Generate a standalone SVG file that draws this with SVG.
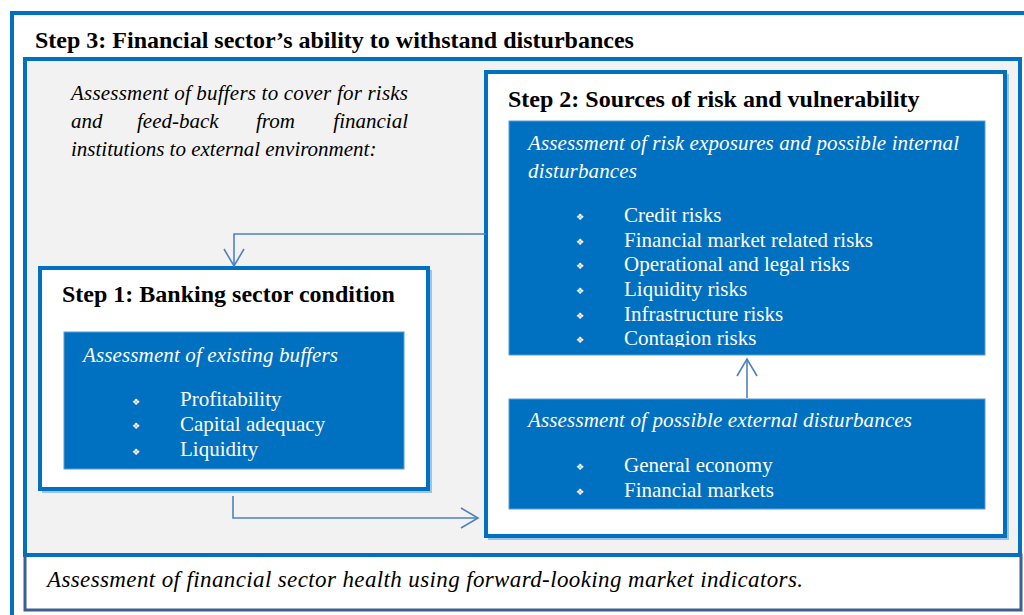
<svg xmlns="http://www.w3.org/2000/svg" width="1024" height="615" viewBox="0 0 1024 615">
<defs>
<style>
.frame{fill:none;stroke:#0070c0;stroke-width:4}
.box{fill:#ffffff;stroke:#0070c0;stroke-width:4}
.shadow{fill:none;stroke:#9dc3e6;stroke-width:2}
.blue{fill:#0070c0;stroke:#5b9bd5;stroke-width:1}
.title{font-family:"Liberation Serif","Times New Roman",serif;font-weight:bold;font-size:24px;fill:#000}
.ital{font-family:"Liberation Serif","Times New Roman",serif;font-style:italic;font-size:21px;fill:#000}
.wital{font-family:"Liberation Serif","Times New Roman",serif;font-style:italic;font-size:21px;fill:#fff}
.item{font-family:"Liberation Serif","Times New Roman",serif;font-size:21px;fill:#fff}
.bul{font-family:"DejaVu Sans",sans-serif;font-size:9px;fill:#fff;text-anchor:middle}
.conn{fill:none;stroke:#4f81bd;stroke-width:1.6}
</style>
<clipPath id="clipA"><rect x="509" y="121" width="476" height="226"/></clipPath>
</defs>

<g id="step3">
<rect class="frame" x="12" y="13" width="1030" height="620"/>
<text class="title" x="35" y="48">Step 3: Financial sector’s ability to withstand disturbances</text>
</g>

<g id="gray-area">
<rect x="25" y="59" width="995" height="496" fill="#f2f2f2" stroke="#0070c0" stroke-width="4"/>
<text class="ital" x="71" y="100" textLength="337" lengthAdjust="spacing">Assessment of buffers to cover for risks</text>
<text class="ital" x="71" y="128">and</text>
<text class="ital" x="137" y="128">feed-back</text>
<text class="ital" x="256" y="128">from</text>
<text class="ital" x="408" y="128" text-anchor="end">financial</text>
<text class="ital" x="71" y="156">institutions to external environment:</text>
</g>

<g id="bottom-box">
<rect x="25" y="555" width="996" height="55" fill="#ffffff" stroke="#3c5f8f" stroke-width="3"/>
<rect x="25" y="553" width="995" height="4" fill="#0070c0"/>
<text class="ital" x="47" y="587" style="font-size:23px" textLength="756" lengthAdjust="spacing">Assessment of financial sector health using forward-looking market indicators.</text>
</g>

<g id="step2">
<rect class="shadow" x="489" y="75" width="519" height="464"/>
<rect class="box" x="486" y="72" width="519" height="464"/>
<text class="title" x="508" y="107">Step 2: Sources of risk and vulnerability</text>
</g>

<g id="risk-exposures">
<rect class="blue" x="509" y="121" width="476" height="234"/>
<g clip-path="url(#clipA)">
<text class="wital" x="528" y="150" textLength="431" lengthAdjust="spacing">Assessment of risk exposures and possible internal</text>
<text class="wital" x="528" y="178" textLength="109" lengthAdjust="spacing">disturbances</text>
<text class="bul" x="580" y="220">❖</text><text class="item" x="624" y="222">Credit risks</text>
<text class="bul" x="580" y="245">❖</text><text class="item" x="624" y="247">Financial market related risks</text>
<text class="bul" x="580" y="269">❖</text><text class="item" x="624" y="271">Operational and legal risks</text>
<text class="bul" x="580" y="294">❖</text><text class="item" x="624" y="296">Liquidity risks</text>
<text class="bul" x="580" y="319">❖</text><text class="item" x="624" y="321">Infrastructure risks</text>
<text class="bul" x="580" y="343">❖</text><text class="item" x="624" y="345">Contagion risks</text>
</g>
</g>

<g id="external">
<rect class="blue" x="509" y="399" width="476" height="110"/>
<text class="wital" x="528" y="427" textLength="384" lengthAdjust="spacing">Assessment of possible external disturbances</text>
<text class="bul" x="580" y="470">❖</text><text class="item" x="624" y="472">General economy</text>
<text class="bul" x="580" y="495">❖</text><text class="item" x="624" y="497">Financial markets</text>
</g>

<g id="step1">
<rect class="shadow" x="43" y="271" width="388" height="221"/>
<rect class="box" x="40" y="268" width="388" height="221"/>
<text class="title" x="62" y="302">Step 1: Banking sector condition</text>
</g>

<g id="buffers">
<rect class="blue" x="64" y="332" width="340" height="137"/>
<text class="wital" x="83" y="362" textLength="255" lengthAdjust="spacing">Assessment of existing buffers</text>
<text class="bul" x="136" y="405">❖</text><text class="item" x="180" y="406">Profitability</text>
<text class="bul" x="136" y="429">❖</text><text class="item" x="180" y="431">Capital adequacy</text>
<text class="bul" x="136" y="455">❖</text><text class="item" x="180" y="456">Liquidity</text>
</g>

<g id="connectors">
<polyline class="conn" points="486,234 234,234 234,266"/>
<polyline class="conn" points="224,249 234,266 244,249"/>
<polyline class="conn" points="233,496 233,518 478,518"/>
<polyline class="conn" points="461,508 478,518 461,528"/>
<polyline class="conn" points="747,398 747,359"/>
<polyline class="conn" points="737,376 747,359 757,376"/>
</g>
</svg>
